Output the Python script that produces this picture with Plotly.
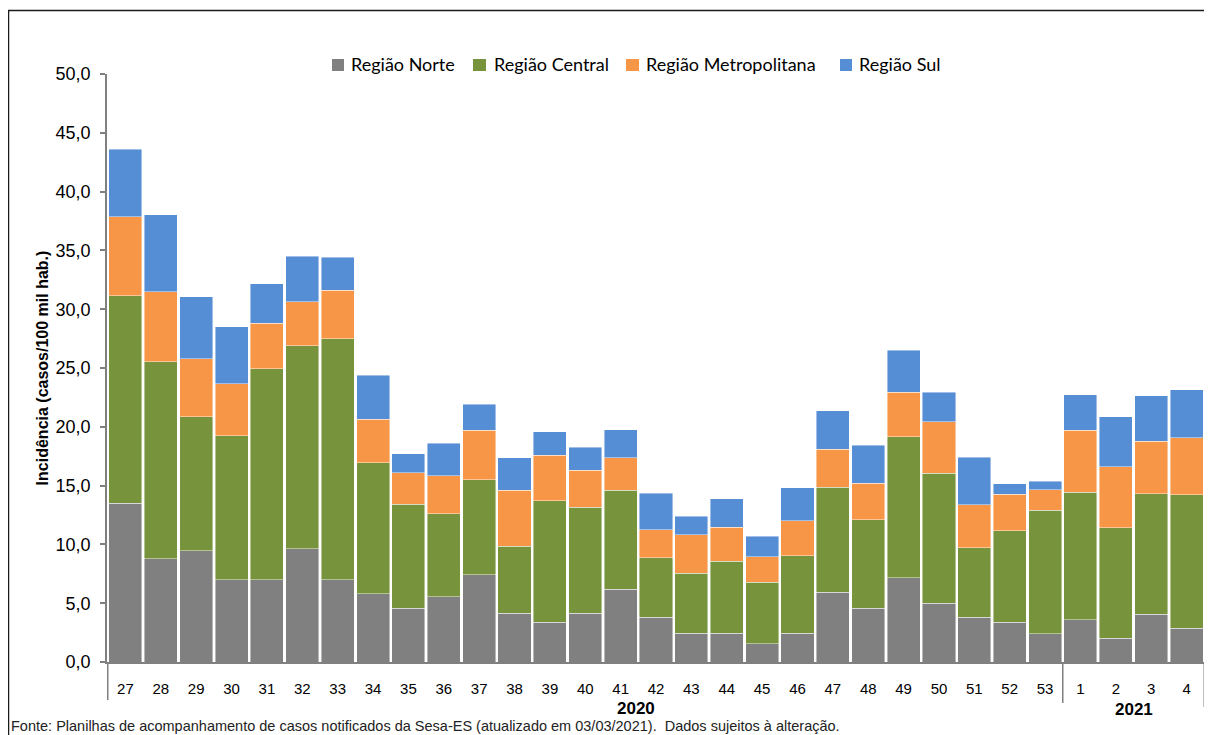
import plotly.graph_objects as go

# ---- data ----
weeks = ["27", "28", "29", "30", "31", "32", "33", "34", "35", "36", "37", "38", "39", "40",
         "41", "42", "43", "44", "45", "46", "47", "48", "49", "50", "51", "52", "53",
         "1", "2", "3", "4"]
series_names = ["Região Norte", "Região Central", "Região Metropolitana", "Região Sul"]
norte = [13.5, 8.8, 9.45, 7.0, 7.0, 9.65, 7.0, 5.8, 4.57, 5.55, 7.4, 4.15, 3.4, 4.15, 6.2,
         3.8, 2.45, 2.45, 1.55, 2.45, 5.95, 4.55, 7.15, 5.0, 3.82, 3.37, 2.41, 3.6, 2.01, 4.05, 2.86]
central = [17.65, 16.75, 11.4, 12.25, 17.95, 17.25, 20.5, 11.15, 8.83, 7.05, 8.1, 5.7, 10.3, 9.0,
           8.4, 5.05, 5.1, 6.1, 5.25, 6.6, 8.9, 7.55, 12.0, 11.05, 5.88, 7.8, 10.49, 10.83, 9.41,
           10.26, 11.37]
metropolitana = [6.7, 5.95, 4.95, 4.4, 3.85, 3.75, 4.1, 3.7, 2.7, 3.25, 4.2, 4.75, 3.9, 3.15, 2.75,
                 2.4, 3.25, 2.9, 2.15, 2.95, 3.25, 3.1, 3.8, 4.4, 3.67, 3.09, 1.75, 5.27, 5.19,
                 4.45, 4.82]
sul = [5.75, 6.55, 5.25, 4.85, 3.35, 3.85, 2.8, 3.75, 1.6, 2.75, 2.2, 2.75, 2.0, 1.95, 2.4, 3.1,
       1.6, 2.45, 1.75, 2.8, 3.25, 3.25, 3.55, 2.5, 4.06, 0.9, 0.74, 3.03, 4.25, 3.86, 4.08]
year_labels = ["2020", "2021"]
y_title = "Incidência (casos/100 mil hab.)"
footer = ("Fonte: Planilhas de acompanhamento de casos notificados da Sesa-ES "
          "(atualizado em 03/03/2021).  Dados sujeitos à alteração.")

colors = ["#808080", "#77933C", "#F79646", "#558ED5"]
values = [norte, central, metropolitana, sul]

# page body adds an 8px offset; figure is sized/positioned to compensate
OFF = 8
W, H = 1212 - OFF, 735 - OFF
L, R, T, B = 107 - OFF, 7, 74 - OFF, 73
PW, PH = W - L - R, H - T - B


def px2x(px):
    return (px - OFF - L) / PW


def px2y(py):
    return (H - B - (py - OFF)) / PH


fig = go.Figure()
for name, vals, col in zip(series_names, values, colors):
    fig.add_trace(go.Bar(
        x=weeks, y=vals, name=name, marker_color=col,
        marker_line=dict(color="rgba(255,255,255,0.55)", width=0.8),
        showlegend=False, hovertemplate="%{x}: %{y:.1f}<extra>" + name + "</extra>"))

shapes = []
annotations = []

# manual legend (squares + labels)
legend_sq = [(332, 344), (473, 486), (626, 639), (840, 852)]
legend_tx = [349, 492, 644, 857]
for name, col, (sx0, sx1), tx in zip(series_names, colors, legend_sq, legend_tx):
    shapes.append(dict(type="rect", xref="paper", yref="paper",
                       x0=px2x(sx0), x1=px2x(sx1), y0=px2y(71), y1=px2y(59),
                       fillcolor=col, line=dict(width=0)))
    annotations.append(dict(text=name, xref="paper", yref="paper", x=px2x(tx), y=px2y(64.5),
                            xanchor="left", yanchor="middle", showarrow=False,
                            font=dict(family="Lato, Open Sans, sans-serif", size=18, color="#000")))

# year group separators
for xi, ybot in [(-0.5, 700), (26.5, 703), (30.5, 707)]:
    shapes.append(dict(type="line", xref="x", yref="paper", x0=xi, x1=xi,
                       y0=0, y1=px2y(ybot), line=dict(color="#808080", width=1.5)))

# outer frame
shapes.append(dict(type="rect", xref="paper", yref="paper",
                   x0=px2x(8.5), x1=px2x(1240), y0=px2y(10.5), y1=px2y(780),
                   line=dict(color="#1a1a1a", width=1.5), fillcolor="rgba(0,0,0,0)"))

annotations.append(dict(text="<b>" + year_labels[0] + "</b>", xref="paper", yref="paper",
                        x=px2x(636), y=px2y(708), xanchor="center", yanchor="middle",
                        showarrow=False, font=dict(family="Liberation Sans, Arial", size=17, color="#000")))
annotations.append(dict(text="<b>" + year_labels[1] + "</b>", xref="x", yref="paper",
                        x=28.5, y=px2y(709), xanchor="center", yanchor="middle",
                        showarrow=False, font=dict(family="Liberation Sans, Arial", size=17, color="#000")))
annotations.append(dict(text=footer, xref="paper", yref="paper",
                        x=px2x(9), y=px2y(726), xanchor="left", yanchor="middle",
                        showarrow=False,
                        font=dict(family="Liberation Sans, Arial", size=14.5, color="#222")))

fig.update_layout(
    width=W, height=H,
    margin=dict(l=L, r=R, t=T, b=B, autoexpand=False),
    barmode="stack", bargap=0.065,
    paper_bgcolor="white", plot_bgcolor="white",
    separators=",.",
    shapes=shapes, annotations=annotations,
    xaxis=dict(type="category", showline=True, linecolor="#808080", linewidth=1.5,
               ticks="", showgrid=False, zeroline=False, ticklabelstandoff=12,
               tickfont=dict(family="Liberation Sans, Arial", size=15, color="#000")),
    yaxis=dict(range=[0, 50], dtick=5, tickformat=".1f", showline=True, linecolor="#808080",
               linewidth=1.5, ticks="outside", ticklen=5, tickcolor="#808080", tickwidth=1.5,
               showgrid=False, zeroline=False, ticklabelstandoff=6,
               tickfont=dict(family="Liberation Sans, Arial", size=18, color="#000"),
               title=dict(text="<b>" + y_title + "</b>", standoff=3,
                          font=dict(family="Liberation Sans, Arial", size=16, color="#000"))),
)

fig.write_html("out.html")
